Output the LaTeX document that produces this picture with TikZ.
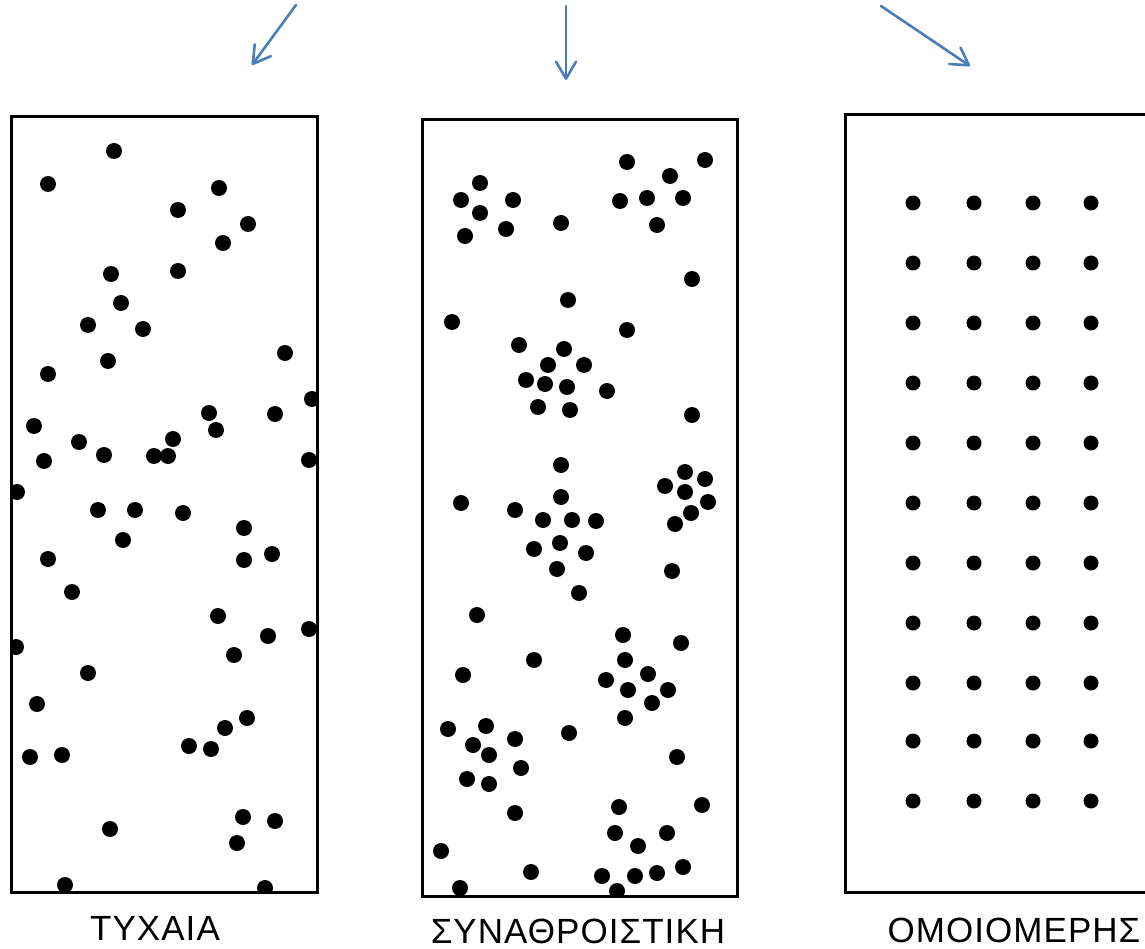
\documentclass[tikz,border=0pt]{standalone}
\usepackage{fontspec}
\setmainfont{Liberation Sans}
\newfontfamily\capfont[LetterSpace=3]{Liberation Sans}
\usetikzlibrary{arrows.meta}
\definecolor{arrowblue}{RGB}{74,126,187}
\begin{document}
\begin{tikzpicture}[x=1pt,y=-1pt,
  frame/.style={draw=black,line width=3pt},
  pointer/.style={draw=arrowblue,line width=2.6pt,line cap=round,
    -{Straight Barb[length=17pt,width=20pt,line width=2.6pt,round]}},
  caption/.style={font=\capfont\fontsize{35}{40}\selectfont,anchor=base,inner sep=0pt}]
\useasboundingbox (0,0) rectangle (1145,949);

% pointers from above
\coordinate (p1s) at (296,5);   \coordinate (p1e) at (252,65);
\coordinate (p2s) at (566,6);   \coordinate (p2e) at (566,80);
\coordinate (p3s) at (881,6);   \coordinate (p3e) at (970,66);
\draw[pointer] (p1s) -- (p1e);
\draw[pointer] (p2s) -- (p2e);
\draw[pointer] (p3s) -- (p3e);

% random pattern
\begin{scope}
  \clip (11,117) rectangle (317,892);
  \foreach \x/\y in {114/151, 48/184, 219/188, 178/210, 248/224, 223/243,
    111/274, 178/271, 121/303, 88/325, 143/329, 108/361, 285/353, 48/374,
    312/399, 209/413, 275/414, 34/426, 216/430, 79/442, 173/439, 44/461,
    104/455, 154/456, 168/456, 309/460, 17/492, 98/510, 135/510, 183/513,
    244/528, 123/540, 48/559, 244/560, 272/554, 72/592, 218/616, 309/629,
    268/636, 16/647, 234/655, 88/673, 37/704, 247/718, 225/728, 189/746,
    211/749, 30/757, 62/755, 243/817, 275/821, 110/829, 237/843, 65/885,
    265/888}
    \fill (\x,\y) circle[radius=8pt];
\end{scope}
\draw[frame] (11,117) rectangle (317,892);
\node[caption] (lab1) at (155,940) {ΤΥΧΑΙΑ};

% clustered pattern
\begin{scope}
  \clip (422,120) rectangle (737,896);
  \foreach \x/\y in {627/162, 705/160, 480/183, 670/176, 461/200, 513/200,
    620/201, 647/198, 683/198, 480/213, 465/236, 506/229, 561/223, 657/225,
    692/279, 568/300, 452/322, 627/330, 519/345, 564/349, 548/365, 584/365,
    526/380, 545/384, 567/387, 607/391, 538/407, 570/410, 692/415, 561/465,
    685/472, 705/479, 665/486, 685/492, 708/502, 461/503, 561/497, 515/510,
    691/513, 543/520, 572/520, 596/521, 675/524, 534/549, 560/543, 586/553,
    557/569, 672/571, 579/593, 477/615, 623/635, 681/643, 534/660, 625/660,
    463/675, 648/674, 606/680, 628/690, 668/690, 652/703, 625/718, 448/729,
    486/726, 515/739, 569/733, 473/745, 489/755, 521/768, 677/757, 467/779,
    489/784, 619/807, 702/805, 515/813, 615/833, 667/833, 638/846, 441/851,
    531/872, 602/876, 635/876, 657/873, 683/867, 460/888, 617/891}
    \fill (\x,\y) circle[radius=8pt];
\end{scope}
\draw[frame] (422,120) rectangle (737,896);
\node[caption] (lab2) at (578,943) {ΣΥΝΑΘΡΟΙΣΤΙΚΗ};

% uniform pattern
\foreach \x in {913,974,1033,1091}
  \foreach \y in {203,263,323,383,443,503,563,623,683,741,801}
    \fill (\x,\y) circle[radius=7.5pt];
\begin{scope}
  \clip (0,0) rectangle (1145,949);
  \draw[frame] (845,115) rectangle (1160,892);
\end{scope}
\node[caption] (lab3) at (1014,942) {ΟΜΟΙΟΜΕΡΗΣ};
\end{tikzpicture}
\end{document}
